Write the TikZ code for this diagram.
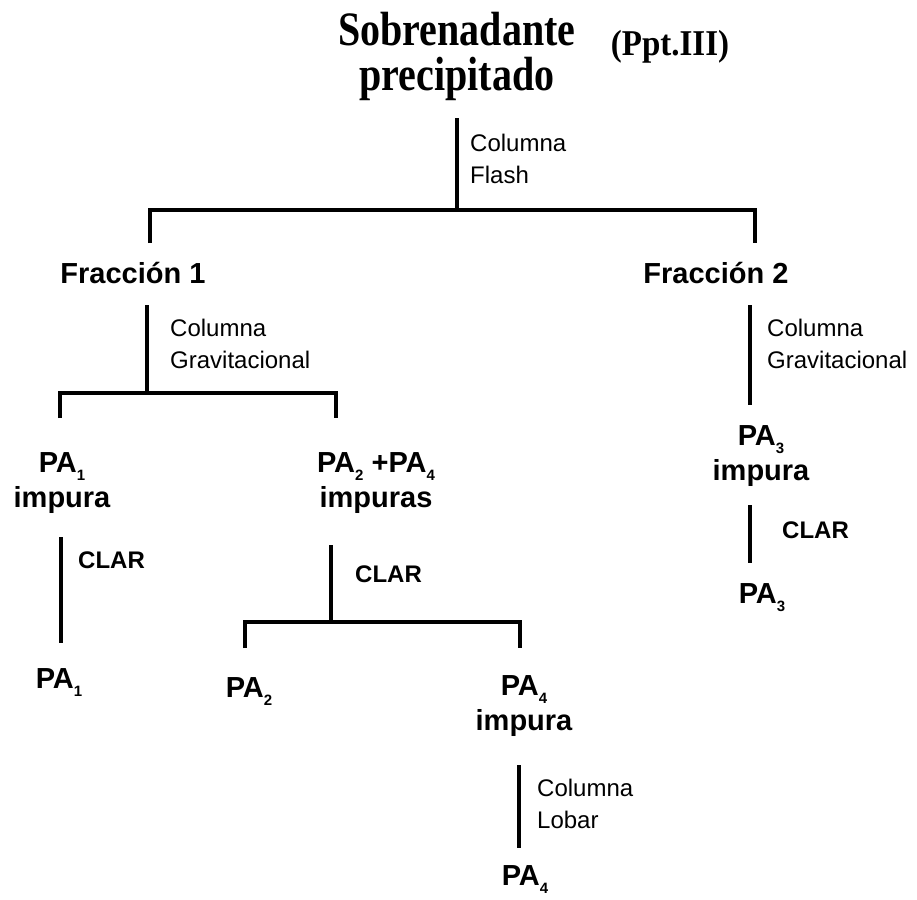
\documentclass[tikz,border=0pt]{standalone}
\usepackage{fontspec}
\setmainfont{Liberation Serif}
\setsansfont{Liberation Sans}
\newcommand{\fs}[2]{\fontsize{#1}{#2}\selectfont}
\newcommand{\sbx}[1]{\raisebox{-0.3em}{\fs{15}{15}#1}}
\begin{document}
\begin{tikzpicture}[x=1pt,y=-1pt,
  ln/.style={line width=4pt, line join=miter},
  ttl/.style={font=\bfseries\fs{40}{44}, align=center, anchor=base, inner sep=0pt},
  ppt/.style={font=\bfseries\fs{33}{33}, anchor=base, inner sep=0pt},
  lbl/.style={font=\sffamily\bfseries\fs{29}{35}, align=center, anchor=base, inner sep=0pt},
  note/.style={font=\sffamily\fs{24}{32}, align=left, anchor=base west, inner sep=0pt},
  clar/.style={font=\sffamily\bfseries\fs{24}{24}, anchor=base west, inner sep=0pt}]
\useasboundingbox (0,0) rectangle (917,899);

% texts (anchor base = baseline of the last line)
\node[ttl] (top) at (457,90) {\scalebox{1}[1.2]{Sobrenadante}\\\scalebox{1}[1.2]{precipitado}};
\node[ppt] (ppt) at (670,56) {\scalebox{1}[1.1]{(Ppt.III)}};
\node[note] (n0) at (470,183) {Columna\\Flash};
\node[lbl] (f1) at (133,283) {Fracción 1};
\node[lbl] (f2) at (716,283) {Fracción 2};
\node[note] (n1) at (170,368) {Columna\\Gravitacional};
\node[note] (n2) at (767,368) {Columna\\Gravitacional};
\node[lbl] (p1i) at (62,507) {PA\sbx{1}\\impura};
\node[lbl] (p24) at (376,507) {PA\sbx{2} +PA\sbx{4}\\impuras};
\node[lbl] (p3i) at (761,480) {PA\sbx{3}\\impura};
\node[clar] (cl3) at (782,538) {CLAR};
\node[lbl] (p3) at (762,603) {PA\sbx{3}};
\node[clar] (cl1) at (78,568) {CLAR};
\node[lbl] (p1) at (59,688) {PA\sbx{1}};
\node[clar] (cl2) at (355,582) {CLAR};
\node[lbl] (p2) at (249,697) {PA\sbx{2}};
\node[lbl] (p4i) at (524,730) {PA\sbx{4}\\impura};
\node[note] (n3) at (537,828) {Columna\\Lobar};
\node[lbl] (p4) at (525,885) {PA\sbx{4}};

% junctions and ends
\coordinate (j0) at (457,210);
\coordinate (b0l) at (150,243);
\coordinate (b0r) at (755,243);
\coordinate (j1) at (147,393);
\coordinate (b1l) at (60,418);
\coordinate (b1r) at (336,418);
\coordinate (c2) at (750,405);
\coordinate (c3) at (750,563);
\coordinate (c4) at (61,643);
\coordinate (j2) at (331,622);
\coordinate (b2l) at (245,648);
\coordinate (b2r) at (520,648);
\coordinate (c5) at (519,848);

% connectors
\draw[ln] (j0 |- top.south) ++(0,18) -- (j0);
\draw[ln] (b0l) |- (j0) -| (b0r);
\draw[ln] (j1 |- f1.south) ++(0,22) -- (j1);
\draw[ln] (b1l) |- (j1) -| (b1r);
\draw[ln] (c2 |- f2.south) ++(0,22) -- (c2);
\draw[ln] (c3 |- p3i.south) ++(0,19) -- (c3);
\draw[ln] (c4 |- p1i.south) ++(0,24) -- (c4);
\draw[ln] (j2 |- p24.south) ++(0,32) -- (j2);
\draw[ln] (b2l) |- (j2) -| (b2r);
\draw[ln] (c5 |- p4i.south) ++(0,29) -- (c5);
\end{tikzpicture}
\end{document}
